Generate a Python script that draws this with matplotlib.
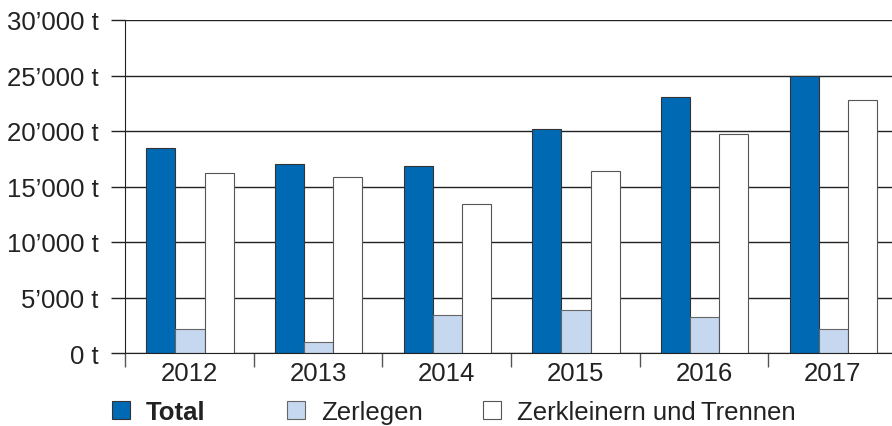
import matplotlib.pyplot as plt
import numpy as np
from matplotlib.patches import Patch

years = ['2012', '2013', '2014', '2015', '2016', '2017']
total = [18500, 17000, 16850, 20200, 23100, 24950]
zerlegen = [2150, 1000, 3400, 3900, 3250, 2150]
zerkleinern = [16200, 15900, 13400, 16400, 19700, 22800]
series_names = ['Total', 'Zerlegen', 'Zerkleinern und\u2009Trennen']
yticks = [0, 5000, 10000, 15000, 20000, 25000, 30000]

plt.rcParams['font.family'] = ['Liberation Sans', 'DejaVu Sans']
blue = '#0069b4'
light = '#c6d8ef'
fs = 18.5

W, H = 892, 427
fig = plt.figure(figsize=(W / 100, H / 100), dpi=100)
# axes extends slightly past the right edge, like the original
ax = fig.add_axes([125 / W, 1 - 354 / H, (897 - 125) / W, (354 - 21) / H])

x = np.arange(len(years))
w = 0.226
ax.bar(x - w + 0.005, total, w, color=blue, edgecolor='#333333', linewidth=0.8, zorder=3)
ax.bar(x + 0.005, zerlegen, w, color=light, edgecolor='#666666', linewidth=0.8, zorder=3)
ax.bar(x + w + 0.005, zerkleinern, w, color='white', edgecolor='#555555', linewidth=0.8, zorder=3)

ax.set_xlim(-0.5, 5.5)
ax.set_ylim(0, 30000)
ax.set_yticks(yticks)
ax.set_yticklabels([f'{v:,}'.replace(',', '\u2019') + ' t' for v in yticks], fontsize=fs)
ax.yaxis.grid(True, color='#222222', linewidth=1.0, zorder=0)
ax.tick_params(axis='y', length=10, width=1.0, color='#222222', pad=9)

ax.set_xticks(x)
ax.set_xticklabels(years, fontsize=fs)
ax.set_xticks(np.arange(-0.5, 6, 1), minor=True)
ax.tick_params(axis='x', which='major', length=0, pad=6)
ax.tick_params(axis='x', which='minor', length=10, width=1.0, color='#555555')

for s in ['top', 'right']:
    ax.spines[s].set_visible(False)
ax.spines['left'].set_color('#222222')
ax.spines['bottom'].set_color('#222222')
ax.spines['left'].set_zorder(4)
ax.spines['bottom'].set_zorder(4)
for t in ax.get_yticklabels() + ax.get_xticklabels():
    t.set_color('#222222')

colors = [blue, light, 'white']
edges = ['#333333', '#666666', '#555555']
leg_x = [112, 287, 483]
for name, c, e, lx in zip(series_names, colors, edges, leg_x):
    leg = fig.legend(handles=[Patch(facecolor=c, edgecolor=e, linewidth=0.8)],
                     labels=[name], loc='center left',
                     bbox_to_anchor=(lx / W, 1 - 413 / H), frameon=False,
                     fontsize=fs, handlelength=0.70, handleheight=0.70,
                     handletextpad=0.62, borderpad=0, borderaxespad=0)
    for t in leg.get_texts():
        t.set_color('#222222')
        if name == 'Total':
            t.set_fontweight('bold')

fig.savefig('out.png', dpi=100)
